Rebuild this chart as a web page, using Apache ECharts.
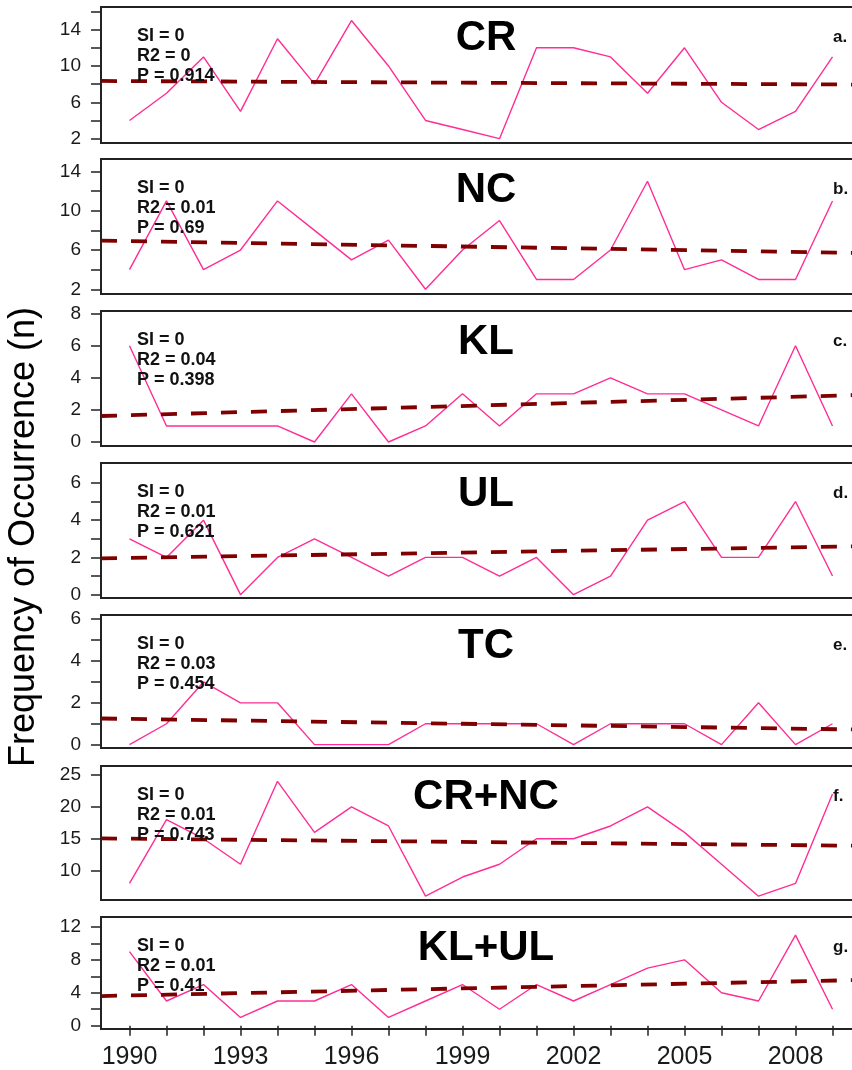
<!DOCTYPE html>
<html>
<head>
<meta charset="utf-8">
<script src="https://cdn.jsdelivr.net/npm/echarts@6/dist/echarts.min.js"></script>
<style>
  html, body { margin: 0; padding: 0; background: #fff; }
  #chart { width: 852px; height: 1070px; }
</style>
</head>
<body>
<div id="chart"></div>
<script>
// years on the x axis
var years = [1990, 1991, 1992, 1993, 1994, 1995, 1996, 1997, 1998, 1999,
             2000, 2001, 2002, 2003, 2004, 2005, 2006, 2007, 2008, 2009];
var xLabels = [1990, 1993, 1996, 1999, 2002, 2005, 2008];

// yearly counts
var cr   = [4, 7, 11, 5, 13, 8, 15, 10, 4, 3, 2, 12, 12, 11, 7, 12, 6, 3, 5, 11];
var nc   = [4, 11, 4, 6, 11, 8, 5, 7, 2, 6, 9, 3, 3, 6, 13, 4, 5, 3, 3, 11];
var kl   = [6, 1, 1, 1, 1, 0, 3, 0, 1, 3, 1, 3, 3, 4, 3, 3, 2, 1, 6, 1];
var ul   = [3, 2, 4, 0, 2, 3, 2, 1, 2, 2, 1, 2, 0, 1, 4, 5, 2, 2, 5, 1];
var tc   = [0, 1, 3, 2, 2, 0, 0, 0, 1, 1, 1, 1, 0, 1, 1, 1, 0, 2, 0, 1];
var crnc = [8, 18, 15, 11, 24, 16, 20, 17, 6, 9, 11, 15, 15, 17, 20, 16, 11, 6, 8, 22];
var klul = [9, 3, 5, 1, 3, 3, 5, 1, 3, 5, 2, 5, 3, 5, 7, 8, 4, 3, 11, 2];

// trend line value at the left and right edge of each plot
var trendCr   = [8.35, 7.95];
var trendNc   = [6.95, 5.7];
var trendKl   = [1.62, 2.93];
var trendUl   = [1.95, 2.6];
var trendTc   = [1.25, 0.72];
var trendCrnc = [15.05, 13.9];
var trendKlul = [3.6, 5.55];

// y tick positions and labelled ticks
var ticksCr = [2, 4, 6, 8, 10, 12, 14, 16],  labelsCr = [2, 6, 10, 14];
var ticksNc = [2, 4, 6, 8, 10, 12, 14],      labelsNc = [2, 6, 10, 14];
var ticksKl = [0, 2, 4, 6, 8],               labelsKl = [0, 2, 4, 6, 8];
var ticksUl = [0, 1, 2, 3, 4, 5, 6],         labelsUl = [0, 2, 4, 6];
var ticksTc = [0, 1, 2, 3, 4, 5, 6],         labelsTc = [0, 2, 4, 6];
var ticksCrnc = [10, 15, 20, 25],            labelsCrnc = [10, 15, 20, 25];
var ticksKlul = [0, 2, 4, 6, 8, 10, 12],     labelsKlul = [0, 4, 8, 12];

var xMin = 1989.23, xMax = 2009.77;

var panels = [
  { name: "CR",    tag: "a.", values: cr,   trend: trendCr,   ticks: ticksCr,   labels: labelsCr,   r2: "0",    p: "0.914", top: 7,   height: 136, min: 1.52, max: 16.49 },
  { name: "NC",    tag: "b.", values: nc,   trend: trendNc,   ticks: ticksNc,   labels: labelsNc,   r2: "0.01", p: "0.69",  top: 159, height: 135, min: 1.52, max: 15.27 },
  { name: "KL",    tag: "c.", values: kl,   trend: trendKl,   ticks: ticksKl,   labels: labelsKl,   r2: "0.04", p: "0.398", top: 311, height: 135, min: -0.25, max: 8.16 },
  { name: "UL",    tag: "d.", values: ul,   trend: trendUl,   ticks: ticksUl,   labels: labelsUl,   r2: "0.01", p: "0.621", top: 463, height: 135, min: -0.18, max: 7.07 },
  { name: "TC",    tag: "e.", values: tc,   trend: trendTc,   ticks: ticksTc,   labels: labelsTc,   r2: "0.03", p: "0.454", top: 615, height: 133, min: -0.16, max: 6.2 },
  { name: "CR+NC", tag: "f.", values: crnc, trend: trendCrnc, ticks: ticksCrnc, labels: labelsCrnc, r2: "0.01", p: "0.743", top: 766, height: 134, min: 5.4, max: 26.4 },
  { name: "KL+UL", tag: "g.", values: klul, trend: trendKlul, ticks: ticksKlul, labels: labelsKlul, r2: "0.01", p: "0.41",  top: 917, height: 112, min: -0.4, max: 13.2 }
];

var chart = echarts.init(document.getElementById("chart"), null, { renderer: "canvas" });

var font = "'Liberation Sans', Arial, sans-serif";
var grids = [], xAxes = [], yAxes = [], series = [], titles = [];

function plain(v) {
  return String(v);
}

panels.forEach(function(p, i) {
  var last = i === panels.length - 1;
  grids.push({
    left: 101, width: 760, top: p.top, height: p.height,
    outerBoundsMode: "none", containLabel: false,
    show: true, borderColor: "#222", borderWidth: 2, backgroundColor: "transparent"
  });
  xAxes.push({
    type: "value", gridIndex: i, min: xMin, max: xMax, show: last,
    axisLine: { show: false },
    splitLine: { show: false },
    axisTick: { show: true, length: 10, customValues: years, lineStyle: { color: "#222", width: 1.5 } },
    axisLabel: { show: true, customValues: xLabels, formatter: plain, margin: 16, fontSize: 25, color: "#1a1a1a", fontFamily: font }
  });
  yAxes.push({
    type: "value", gridIndex: i, min: p.min, max: p.max,
    axisLine: { show: false },
    splitLine: { show: false },
    axisTick: { show: true, length: 10, customValues: p.ticks, lineStyle: { color: "#222", width: 1.5 } },
    axisLabel: { show: true, customValues: p.labels, formatter: plain, margin: 20, fontSize: 19, color: "#1a1a1a", fontFamily: font }
  });
  series.push({
    type: "line", xAxisIndex: i, yAxisIndex: i,
    data: years.map(function(y, k) { return [y, p.values[k]]; }),
    showSymbol: false, symbol: "none",
    lineStyle: { color: "#ff2d95", width: 1.4 },
    z: 2
  });
  series.push({
    type: "line", xAxisIndex: i, yAxisIndex: i,
    data: [[xMin, p.trend[0]], [xMax, p.trend[1]]],
    showSymbol: false, symbol: "none",
    lineStyle: { color: "#7f0000", width: 3.8, type: [16, 14], cap: "butt" },
    z: 3
  });
  titles.push({
    text: p.name, left: 481, top: p.top + 5, textAlign: "center",
    textStyle: { fontSize: 42, fontWeight: "bold", color: "#000", fontFamily: font }
  });
  titles.push({
    text: "SI = 0\nR2 = " + p.r2 + "\nP = " + p.p, left: 132, top: p.top + 14,
    textStyle: { fontSize: 18, lineHeight: 20, fontWeight: "bold", color: "#111", fontFamily: font }
  });
  titles.push({
    text: p.tag, left: 828, top: p.top + 17,
    textStyle: { fontSize: 17, fontWeight: "bold", color: "#111", fontFamily: font }
  });
});

var option = {
  animation: false,
  backgroundColor: "#fff",
  title: titles,
  grid: grids,
  xAxis: xAxes,
  yAxis: yAxes,
  series: series,
  graphic: [{
    type: "text", x: 24, y: 537, rotation: Math.PI / 2,
    style: {
      text: "Frequency of Occurrence (n)", fill: "#000",
      font: "36px " + font, textAlign: "center", textVerticalAlign: "middle"
    }
  }]
};
chart.setOption(option);
</script>
</body>
</html>
